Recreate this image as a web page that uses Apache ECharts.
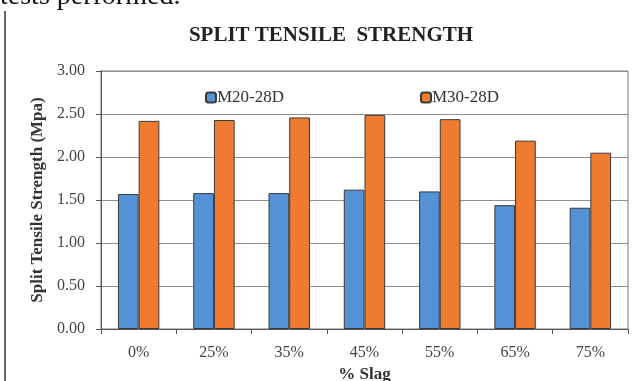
<!DOCTYPE html>
<html>
<head>
<meta charset="utf-8">
<script src="https://cdn.jsdelivr.net/npm/echarts@6/dist/echarts.min.js"></script>
<style>
  html, body { margin: 0; padding: 0; background: #fff; }
  #chart { width: 638px; height: 381px; }
</style>
</head>
<body>
<div id="chart"></div>
<script>
var slag = ['0%', '25%', '35%', '45%', '55%', '65%', '75%'];
var m20 = [1.57, 1.58, 1.58, 1.62, 1.60, 1.44, 1.41];
var m30 = [2.42, 2.43, 2.46, 2.49, 2.44, 2.19, 2.05];

var serif = '"Liberation Serif", "DejaVu Serif", serif';

var myChart = echarts.init(document.getElementById('chart'));

var option = {
  animation: false,
  title: {
    text: 'SPLIT TENSILE  STRENGTH',
    left: 326,
    top: 20,
    textAlign: 'center',
    textStyle: { fontFamily: serif, fontSize: 21, fontWeight: 'bold', color: '#222' }
  },
  graphic: [
    {
      type: 'text',
      left: 0,
      top: -17,
      style: { text: 'tests performed.', font: '28px "Liberation Serif"', fill: '#111' }
    },
    {
      type: 'line',
      shape: { x1: 5, y1: 11, x2: 5, y2: 381 },
      style: { stroke: '#666', lineWidth: 2 }
    }
  ],
  legend: [
    {
      data: ['M20-28D'],
      left: 200,
      top: 84,
      itemWidth: 10,
      itemHeight: 10,
      textStyle: { fontFamily: serif, fontSize: 17, color: '#333', padding: [0, 0, 0, -4] }
    },
    {
      data: ['M30-28D'],
      left: 415,
      top: 84,
      itemWidth: 10,
      itemHeight: 10,
      textStyle: { fontFamily: serif, fontSize: 17, color: '#333', padding: [0, 0, 0, -4] }
    }
  ],
  grid: {
    left: 101,
    right: 10,
    top: 71,
    bottom: 52,
    outerBoundsMode: 'none',
    show: true,
    borderColor: '#777',
    borderWidth: 1
  },
  xAxis: {
    type: 'category',
    data: slag,
    name: '% Slag',
    nameLocation: 'middle',
    nameGap: 35,
    nameTextStyle: { fontFamily: serif, fontSize: 17, fontWeight: 'bold', color: '#333' },
    axisLine: { lineStyle: { color: '#555', width: 1 } },
    axisTick: { show: true, length: 5, lineStyle: { color: '#555' } },
    axisLabel: { fontFamily: serif, fontSize: 16, color: '#444', margin: 16 }
  },
  yAxis: {
    type: 'value',
    min: 0,
    max: 3,
    interval: 0.5,
    name: 'Split Tensile Strength (Mpa)',
    nameLocation: 'middle',
    nameGap: 52,
    nameTextStyle: { fontFamily: serif, fontSize: 17, fontWeight: 'bold', color: '#333' },
    axisLine: { show: true, lineStyle: { color: '#555', width: 1 } },
    axisTick: { show: true, length: 5, lineStyle: { color: '#555' } },
    axisLabel: {
      fontFamily: serif,
      fontSize: 16,
      color: '#444',
      margin: 16,
      formatter: function (v) { return v.toFixed(2); }
    },
    splitLine: { lineStyle: { color: '#8f8f8f', width: 1 } }
  },
  series: [
    {
      name: 'M20-28D',
      type: 'bar',
      data: m20,
      barGap: '0%',
      barCategoryGap: '45%',
      itemStyle: { color: '#5592d5', borderColor: '#3a3a3a', borderWidth: 1 }
    },
    {
      name: 'M30-28D',
      type: 'bar',
      data: m30,
      itemStyle: { color: '#ee7b30', borderColor: '#3a3a3a', borderWidth: 1 }
    }
  ]
};

myChart.setOption(option);
window.addEventListener('resize', function () {
  myChart.resize();
});
</script>
</body>
</html>
